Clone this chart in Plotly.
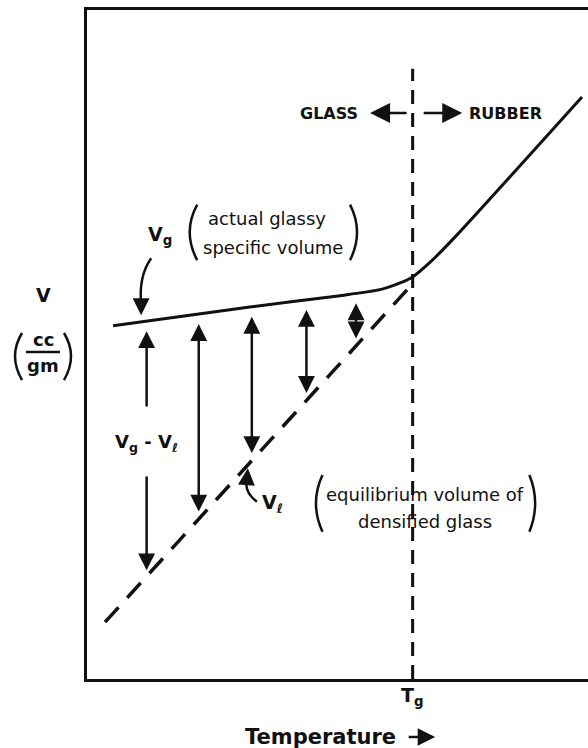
import numpy as np
import plotly.graph_objects as go

# ---- data (arbitrary temperature / specific-volume units) ----
# actual glassy specific volume, bending into the rubbery line above Tg
T_curve = [5.2, 32.5, 50.5, 58.5, 62.5, 65.0, 68.5, 74.0, 98.8]
V_curve = [52.8, 55.6, 57.3, 58.2, 59.2, 60.1, 62.3, 66.5, 87.0]

# equilibrium (densified glass) volume, extrapolated below Tg
T_equil = [3.6, 65.0]
V_equil = [8.5, 59.1]

# glass transition temperature and the top of its marker line
T_g = 65.0
V_tg_top = 91.2

# temperatures at which the excess volume Vg - Vl is marked
T_arrows = [11.9, 22.3, 32.9, 43.8, 53.7]

FONT = "DejaVu Sans"
INK = "#111111"

V_top = np.interp(T_arrows, T_curve, V_curve) - 1.5
V_bot = np.interp(T_arrows, T_equil, V_equil) + 0.9

fig = go.Figure()

# Tg marker
fig.add_trace(go.Scatter(
    x=[T_g, T_g], y=[0, V_tg_top], mode="lines",
    line=dict(color=INK, width=3, dash="14px,9px"), hoverinfo="skip"))

# equilibrium line (dashed)
fig.add_trace(go.Scatter(
    x=T_equil, y=V_equil, mode="lines",
    line=dict(color=INK, width=3.5, dash="20px,13px"), hoverinfo="skip"))

# glassy / rubbery volume curve
fig.add_trace(go.Scatter(
    x=T_curve, y=V_curve, mode="lines",
    line=dict(color=INK, width=3, shape="spline", smoothing=0.6),
    hoverinfo="skip"))

ann = []
ARW = dict(showarrow=True, arrowcolor=INK, arrowwidth=2.5, arrowhead=2,
           arrowsize=1.35, standoff=0, startstandoff=0, text="",
           xref="x", yref="y", axref="x", ayref="y")

# double-headed excess-volume arrows
label_V = 35.3
for i, (t, vt, vb) in enumerate(zip(T_arrows, V_top, V_bot)):
    if i == 0:
        ann.append(dict(x=t, y=vt, ax=t, ay=label_V + 5.2, **ARW))
        ann.append(dict(x=t, y=vb, ax=t, ay=label_V - 4.8, **ARW))
    else:
        ann.append(dict(x=t, y=vt, ax=t, ay=vb, arrowside="end+start",
                        startarrowhead=2, startarrowsize=1.35, **ARW))

def txt(x, y, s, size, bold=False, xanchor="center", xref="x", yref="y",
        yanchor="middle"):
    return dict(x=x, y=y, text=s, showarrow=False, xref=xref, yref=yref,
                xanchor=xanchor, yanchor=yanchor,
                font=dict(family=FONT, size=size, color=INK,
                          weight="bold" if bold else "normal"))

NB = "\u00a0"
ann += [
    txt(T_arrows[0], label_V, "V<sub>g</sub> - V<sub>\u2113</sub>", 18, True),
    txt(14.6, 66.3, "V<sub>g</sub>", 19, True),
    txt(35.9, 68.8, "actual" + NB + "glassy", 18),
    txt(37.1, 64.5, "specific" + NB + "volume", 18),
    txt(37.0, 26.3, "V<sub>\u2113</sub>", 19, True),
    txt(67.5, 27.6, "equilibrium" + NB + "volume" + NB + "of", 18),
    txt(67.5, 23.6, "densified" + NB + "glass", 18),
    txt(54.5, 84.6, "GLASS", 16, True, xanchor="right"),
    txt(75.8, 84.6, "RUBBER", 16, True, xanchor="left"),
    txt(T_g, -0.004, "T<sub>g</sub>", 19, True, yref="paper", yanchor="top"),
    txt(0.466, -0.0867, "Temperature", 21, True, xref="paper", yref="paper"),
    txt(-0.0878, 0.574, "V", 19, True, xref="paper", yref="paper"),
    txt(-0.0878, 0.508, "cc", 18, True, xref="paper", yref="paper"),
    txt(-0.0878, 0.468, "gm", 18, True, xref="paper", yref="paper"),
]

# GLASS / RUBBER direction arrows
BIG = dict(ARW, arrowsize=1.6)
ann.append(dict(x=56.5, y=84.6, ax=64.1, ay=84.6, **BIG))
ann.append(dict(x=74.9, y=84.6, ax=66.9, ay=84.6, **BIG))
# Temperature arrow
ann.append(dict(x=0.695, y=-0.0867, ax=-28, ay=0, xref="paper", yref="paper",
                showarrow=True, arrowcolor=INK, arrowwidth=2.5, arrowhead=2,
                arrowsize=1.4, standoff=0, text=""))

# pointer heads for the curved leaders
t_vg = 10.8
v_vg = float(np.interp(t_vg, T_curve, V_curve)) + 1.0
ann.append(dict(x=t_vg, y=v_vg, ax=t_vg, ay=v_vg + 2.0, **ARW))
t_vl = 32.1
v_vl = float(np.interp(t_vl, T_equil, V_equil)) - 0.5
ann.append(dict(x=t_vl, y=v_vl, ax=t_vl - 0.2, ay=v_vl - 1.8, **ARW))

shapes = []
def path(d, xref="x", yref="y", w=2.5):
    return dict(type="path", path=d, xref=xref, yref=yref,
                line=dict(color=INK, width=w))

# curved leaders
shapes.append(path(f"M 12.8,62.9 Q 10.3,60.2 {t_vg},{v_vg + 1.8}"))
shapes.append(path(f"M 33.9,26.5 Q 31.3,28.0 {t_vl - 0.2},{v_vl - 1.6}"))
# brackets around the descriptions
shapes.append(path("M 22.0,70.9 Q 19.0,66.8 22.0,62.6"))
shapes.append(path("M 52.5,70.9 Q 55.3,66.8 52.5,62.6"))
shapes.append(path("M 47.0,30.5 Q 44.4,26.3 47.0,22.0"))
shapes.append(path("M 88.3,30.5 Q 90.6,26.3 88.3,22.0"))
# y-axis unit bracket and fraction bar
shapes.append(path("M -0.1297,0.5172 Q -0.1577,0.4828 -0.1297,0.4469",
                   "paper", "paper"))
shapes.append(path("M -0.0459,0.5172 Q -0.0179,0.4828 -0.0459,0.4469",
                   "paper", "paper"))
shapes.append(dict(type="line", xref="paper", yref="paper",
                   x0=-0.1218, x1=-0.0539, y0=0.4888, y1=0.4888,
                   line=dict(color=INK, width=2.5)))

fig.update_layout(
    width=588, height=748,
    margin=dict(l=87, r=0, t=10, b=69),
    paper_bgcolor="white", plot_bgcolor="white",
    showlegend=False,
    annotations=ann, shapes=shapes,
    xaxis=dict(range=[0, 100], showline=True, linecolor=INK, linewidth=3,
               mirror=True, showgrid=False, zeroline=False,
               showticklabels=False, ticks=""),
    yaxis=dict(range=[0, 100], showline=True, linecolor=INK, linewidth=3,
               showgrid=False, zeroline=False, showticklabels=False,
               ticks=""),
)

fig.write_html("out.html")
